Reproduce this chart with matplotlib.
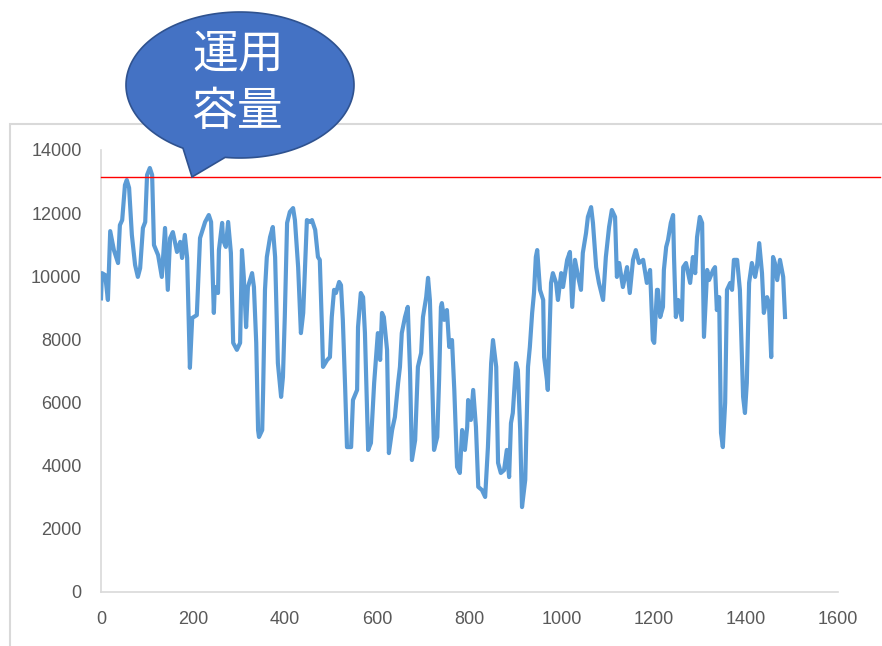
import numpy as np
import matplotlib
matplotlib.use("Agg")
import matplotlib.pyplot as plt
from matplotlib.patches import Polygon, Rectangle

# load profile (sampled turning points of the series)
sample_idx = [
    0, 2, 9, 15, 20, 28, 37, 41, 46, 52, 56, 61, 67, 74, 80, 85, 91, 96, 100, 106,
    111, 115, 124, 132, 139, 145, 150, 156, 165, 172, 176, 182, 187, 193, 198, 208, 215, 226, 234, 239,
    245, 247, 254, 256, 263, 265, 271, 276, 282, 287, 295, 302, 306, 310, 315, 319, 328, 332, 337, 341,
    343, 350, 352, 356, 360, 367, 373, 378, 384, 391, 395, 399, 404, 410, 417, 421, 428, 434, 439, 447,
    454, 458, 465, 471, 475, 480, 482, 491, 497, 501, 506, 510, 517, 521, 525, 530, 534, 543, 547, 556,
    558, 564, 569, 573, 580, 586, 593, 601, 606, 610, 614, 621, 625, 632, 638, 645, 649, 653, 660, 666,
    671, 675, 682, 688, 695, 699, 706, 710, 714, 719, 723, 730, 734, 738, 740, 745, 751, 756, 762, 767,
    773, 779, 784, 790, 795, 797, 803, 808, 814, 819, 827, 834, 840, 847, 851, 858, 862, 868, 875, 881,
    886, 890, 894, 901, 905, 910, 914, 921, 927, 931, 936, 940, 944, 947, 953, 960, 962, 968, 970, 977,
    981, 988, 992, 999, 1003, 1012, 1018, 1023, 1029, 1036, 1042, 1046, 1053, 1057, 1064, 1068, 1075, 1081, 1090, 1096,
    1103, 1109, 1116, 1120, 1125, 1133, 1142, 1148, 1155, 1161, 1168, 1177, 1185, 1192, 1198, 1201, 1207, 1209, 1214, 1220,
    1222, 1227, 1231, 1237, 1242, 1244, 1248, 1253, 1261, 1264, 1270, 1279, 1285, 1290, 1294, 1300, 1305, 1309, 1316, 1320,
    1329, 1333, 1337, 1342, 1346, 1350, 1355, 1359, 1366, 1370, 1374, 1381, 1387, 1394, 1398, 1402, 1407, 1413, 1420, 1424,
    1429, 1435, 1439, 1446, 1450, 1455, 1459, 1463, 1468, 1474, 1481, 1485,
]
capacity = [
    9300, 10100, 10040, 9250, 11430, 10830, 10420, 11620, 11780, 12890, 13050, 12800, 11310, 10360, 9980, 10260, 11530, 11720, 13210, 13430,
    13210, 10990, 10670, 9980, 11530, 9570, 11210, 11400, 10770, 11090, 10580, 11310, 10580, 7100, 8680, 8770, 11210, 11720, 11940, 11720,
    8840, 9660, 9470, 10830, 11690, 11150, 10930, 11720, 10740, 7890, 7670, 7890, 10830, 9980, 8390, 9660, 10100, 9660, 7890, 5130,
    4910, 5130, 6400, 9570, 10610, 11240, 11560, 10610, 7250, 6180, 6810, 8710, 11690, 12040, 12160, 11780, 10290, 8200, 8840, 11780,
    11720, 11780, 11470, 10610, 10520, 8200, 7130, 7350, 7440, 8710, 9570, 9470, 9820, 9720, 8620, 6490, 4590, 4590, 6080, 6400,
    8390, 9470, 9340, 8200, 4500, 4720, 6620, 8200, 7350, 8840, 8710, 7670, 4400, 5130, 5540, 6620, 7130, 8200, 8710, 9030,
    6940, 4180, 4810, 7130, 7570, 8710, 9340, 9950, 9250, 6720, 4500, 4910, 6720, 9030, 9150, 8620, 8930, 7760, 7980, 6400,
    3960, 3770, 5130, 4500, 5230, 6080, 5450, 6400, 5230, 3330, 3230, 3010, 4590, 7250, 7980, 7130, 4090, 3770, 3860, 4500,
    3640, 5350, 5670, 7250, 7030, 5130, 2690, 3550, 7130, 7760, 8840, 9470, 10610, 10830, 9570, 9250, 7440, 6720, 6400, 9790,
    10100, 9790, 9250, 10100, 9660, 10520, 10770, 9030, 10520, 9980, 9570, 10740, 11370, 11880, 12190, 11690, 10290, 9790, 9250, 10610,
    11560, 12100, 11880, 9980, 10420, 9660, 10290, 9470, 10520, 10830, 10420, 10520, 9790, 10200, 7980, 7890, 9570, 9570, 8710, 9030,
    10200, 10930, 11150, 11690, 11940, 10610, 8710, 9250, 8620, 10290, 10420, 9790, 10610, 10100, 11240, 11880, 11690, 8080, 10200, 9880,
    10200, 10290, 8930, 9340, 5040, 4590, 5990, 9570, 9790, 9570, 10520, 10520, 9570, 6180, 5670, 6620, 9790, 10420, 9980, 10290,
    11050, 10100, 8840, 9340, 9150, 7440, 10610, 10420, 9880, 10520, 9980, 8710,
]
rated_capacity = 13160
callout_lines = ["運用", "容量"]

x_ticks = list(range(0, 1601, 200))
y_ticks = list(range(0, 14001, 2000))

W, H = 882, 646
fig = plt.figure(figsize=(W / 100, H / 100), dpi=100)
fig.patch.set_facecolor("white")

# chart area frame
fig.add_artist(Rectangle((10 / W, -0.1), 1.2, 1 - 124 / H + 0.1,
                         transform=fig.transFigure, fill=False,
                         edgecolor="#d9d9d9", linewidth=1.5))

ax = fig.add_axes([101 / W, 1 - 592 / H, 737 / W, 442 / H])
ax.plot(sample_idx, capacity, color="#5b9bd5", linewidth=3.0,
        solid_joinstyle="round", zorder=3)
ax.plot([0, 1692], [rated_capacity, rated_capacity], color="#ff0000",
        linewidth=1.0, clip_on=False, zorder=4)

ax.set_xlim(0, 1600)
ax.set_ylim(0, 14000)
ax.set_xticks(x_ticks)
ax.set_yticks(y_ticks)
ax.tick_params(length=0, labelsize=13, labelcolor="#595959")
ax.tick_params(axis="y", pad=14)
ax.tick_params(axis="x", pad=14)
for lab in ax.get_xticklabels() + ax.get_yticklabels():
    lab.set_fontfamily("Liberation Sans")
for side in ("top", "right"):
    ax.spines[side].set_visible(False)
for side in ("left", "bottom"):
    ax.spines[side].set_color("#d9d9d9")
    ax.spines[side].set_linewidth(1.2)

# speech bubble (ellipse with a tail pointing at the capacity line)
cx, cy, a, b = 240, 85, 114, 73
t = np.radians(np.linspace(120, 457.5, 200))
px = cx + a * np.cos(t)
py = cy + b * np.sin(t)
px = np.append(px, 192)
py = np.append(py, 177)
pts = np.column_stack([px / W, 1 - py / H])
fig.add_artist(Polygon(pts, closed=True, transform=fig.transFigure,
                       facecolor="#4472c4", edgecolor="#2f528f",
                       linewidth=1.2, zorder=10))
for i, line in enumerate(callout_lines):
    fig.text(238 / W, 1 - (55 + 57 * i) / H, line, ha="center", va="center",
             fontsize=33, color="white",
             family=["Noto Sans CJK JP", "DejaVu Sans"], zorder=11)

fig.savefig("out.png", dpi=100)
